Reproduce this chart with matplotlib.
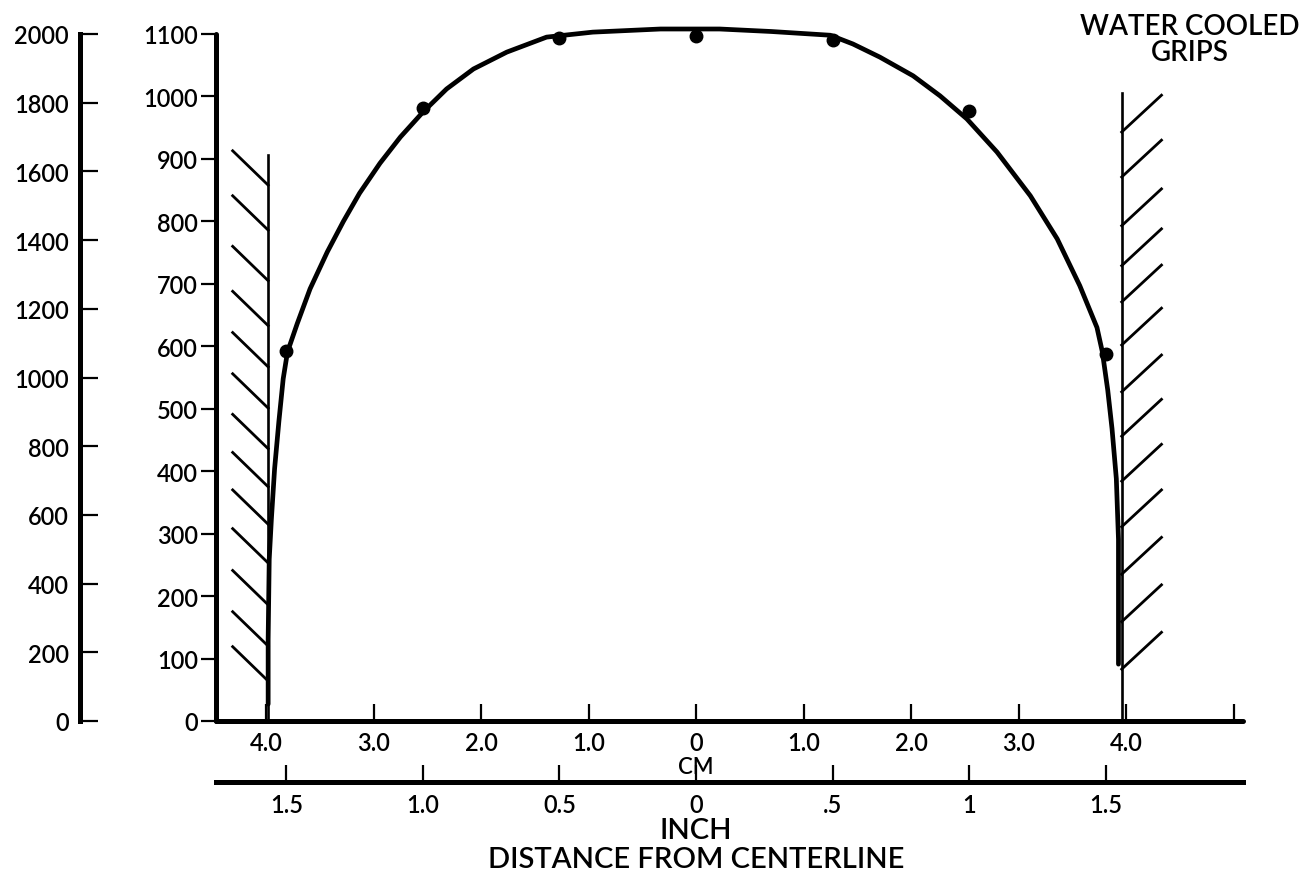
import matplotlib
matplotlib.use("Agg")
import matplotlib.pyplot as plt

plt.rcParams["font.family"] = ["Lato", "DejaVu Sans"]
plt.rcParams["font.weight"] = "semibold"

# temperature profile along the specimen (distance in cm, temperature in deg C)
curve_cm = [-3.98, -3.98, -3.97, -3.95, -3.92, -3.88, -3.84, -3.80, -3.71, -3.59,
            -3.43, -3.28, -3.13, -2.94, -2.75, -2.54, -2.32, -2.07, -1.76, -1.39,
            -0.96, -0.33, 0.22, 0.70, 1.25, 1.46, 1.71, 2.02, 2.27, 2.52,
            2.80, 3.11, 3.36, 3.57, 3.73, 3.78, 3.83, 3.87, 3.91, 3.93, 3.93, 3.93]
curve_c = [27, 131, 259, 323, 404, 480, 548, 591, 636, 692,
           751, 800, 845, 893, 935, 975, 1012, 1044, 1071, 1095,
           1103, 1108, 1108, 1104, 1098, 1084, 1063, 1033, 1001, 964,
           911, 841, 772, 697, 630, 591, 530, 468, 388, 291, 163, 91]

# measured points (thermocouples every half inch)
meas_cm = [-3.81, -2.54, -1.27, 0.0, 1.27, 2.54, 3.81]
meas_c = [592, 982, 1094, 1097, 1090, 977, 588]

# water cooled grips
grip_x = [-3.98, 3.96]
grip_top = [907, 1005]
hatch_left = [858, 786, 705, 633, 567, 501, 436, 375, 315, 253, 186, 120, 64]
hatch_right = [943, 871, 793, 729, 671, 602, 527, 456, 384, 311, 235, 159, 83]

c_ticks = list(range(0, 1101, 100))
f_ticks = list(range(0, 2001, 200))
cm_ticks = [-4, -3, -2, -1, 0, 1, 2, 3, 4, 5]
cm_labels = ["4.0", "3.0", "2.0", "1.0", "0", "1.0", "2.0", "3.0", "4.0", ""]
in_ticks = [-1.5, -1.0, -0.5, 0, 0.5, 1.0, 1.5]
in_labels = ["1.5", "1.0", "0.5", "0", ".5", "1", "1.5"]

W, H = 1301, 879
x0, x1, yb, yt = 216, 1243, 722, 35
px_cm = 107.5
xc = 696

fig = plt.figure(figsize=(W / 100, H / 100), dpi=100)
ax = fig.add_axes([x0 / W, 1 - yb / H, (x1 - x0) / W, (yb - yt) / H])
ax.set_xlim((x0 - xc) / px_cm, (x1 - xc) / px_cm)
ax.set_ylim(0, 1100)

k = "black"
ax.plot(curve_cm, curve_c, color=k, lw=3.4, solid_capstyle="round",
        solid_joinstyle="round", zorder=3, clip_on=False)
ax.plot(meas_cm, meas_c, "o", color=k, ms=9, zorder=4, clip_on=False)

# grips with hatching
ax.plot([grip_x[0], grip_x[0]], [0, grip_top[0]], color=k, lw=1.9)
ax.plot([grip_x[1], grip_x[1]], [0, grip_top[1]], color=k, lw=1.9)
for y in hatch_left:
    ax.plot([grip_x[0], grip_x[0] - 0.33], [y, y + 55], color=k, lw=2.0)
for y in hatch_right:
    ax.plot([grip_x[1], grip_x[1] + 0.37], [y, y + 59], color=k, lw=2.0)

for s in ["top", "right"]:
    ax.spines[s].set_visible(False)
for s in ["left", "bottom"]:
    ax.spines[s].set_linewidth(3.6)
    ax.spines[s].set_capstyle("round")

ax.set_yticks(c_ticks)
ax.tick_params(axis="y", direction="out", length=11, width=1.6, pad=2, labelsize=17)
ax.set_xticks(cm_ticks, labels=cm_labels)
ax.tick_params(axis="x", direction="in", length=12, width=1.6, pad=7, labelsize=17)

# outer fahrenheit scale
axf = ax.twinx()
axf.set_ylim(0, 2000)
for s in ["top", "right", "bottom"]:
    axf.spines[s].set_visible(False)
axf.spines["left"].set_visible(True)
axf.spines["left"].set_position(("axes", (80 - x0) / (x1 - x0)))
axf.spines["left"].set_linewidth(3.6)
axf.yaxis.set_ticks_position("left")
axf.yaxis.set_label_position("left")
axf.set_yticks(f_ticks)
axf.tick_params(axis="y", direction="in", length=13, width=1.6, pad=8, labelsize=17)

# inch scale under the cm scale
sec = ax.secondary_xaxis((yb - 783) / (yb - yt),
                         functions=(lambda v: v / 2.54, lambda v: v * 2.54))
sec.spines["bottom"].set_linewidth(3.6)
sec.set_xticks(in_ticks, labels=in_labels)
sec.tick_params(axis="x", direction="in", length=12, width=1.6, pad=8, labelsize=17)

tr = ax.get_xaxis_transform()
ax.text(0, (yb - 768) / (yb - yt), "CM", transform=tr, ha="center", va="center", fontsize=16)
ax.text(0, (yb - 831) / (yb - yt), "INCH", transform=tr, ha="center", va="center", fontsize=21)
ax.text(0, (yb - 860) / (yb - yt), "DISTANCE FROM CENTERLINE", transform=tr,
        ha="center", va="center", fontsize=21)
ax.text((1190 - xc) / px_cm, (yb - 14) / (yb - yt), "WATER COOLED\nGRIPS", transform=tr,
        ha="center", va="top", fontsize=20, linespacing=1.0)

fig.savefig("out.png", dpi=100)
